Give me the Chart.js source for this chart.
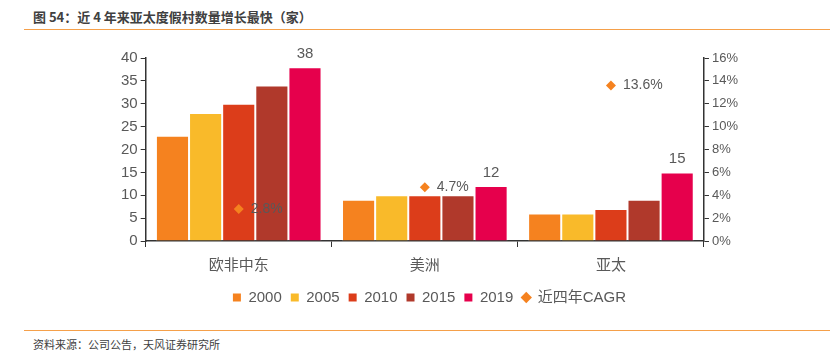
<!DOCTYPE html>
<html>
<head>
<meta charset="utf-8">
<script src="https://cdn.jsdelivr.net/npm/chart.js@4.4.0/dist/chart.umd.min.js"></script>
<style>
    body { margin: 0; background: #fff; width: 838px; height: 353px; position: relative; overflow: hidden; font-family: "Liberation Sans", "Noto Sans CJK SC", sans-serif; }
    .title { position: absolute; left: 33px; top: 7px; font-size: 13px; font-weight: bold; color: #404040; font-family: "Noto Sans CJK SC", sans-serif; }
    .rule { position: absolute; left: 24px; width: 806px; height: 1px; background: #F5A04A; }
    .source { position: absolute; left: 33px; top: 336px; font-size: 11px; color: #404040; font-family: "Noto Sans CJK SC", sans-serif; }
    #wrap { position: absolute; left: 0; top: 35px; width: 838px; height: 280px; }
</style>
</head>
<body>
<div class="title">图 54：近 4 年来亚太度假村数量增长最快（家）</div>
<div class="rule" style="top: 29px;"></div>
<div id="wrap"><canvas id="chart"></canvas></div>
<div class="rule" style="top: 330px;"></div>
<div class="source">资料来源：公司公告，天风证券研究所</div>
<script>
document.addEventListener('DOMContentLoaded', function() {
    const regions = ['欧非中东', '美洲', '亚太'];
    const years = ['2000', '2005', '2010', '2015', '2019'];
    const v2000 = [23, 9, 6];
    const v2005 = [28, 10, 6];
    const v2010 = [30, 10, 7];
    const v2015 = [34, 10, 9];
    const v2019 = [38, 12, 15];
    const cagr = [2.8, 4.7, 13.6];
    const barColors = ['#F5821F', '#F9BA2A', '#DC3D1A', '#B0392B', '#E6004C'];
    const grey = '#595959';

    const barSeries = [v2000, v2005, v2010, v2015, v2019];
    const datasets = barSeries.map((vals, i) => ({
        label: years[i],
        data: vals,
        backgroundColor: barColors[i],
        borderColor: 'rgba(255,255,255,0.6)',
        borderWidth: 1,
        yAxisID: 'y',
        categoryPercentage: 0.89,
        barPercentage: 1,
        order: 2
    }));
    datasets.push({
        type: 'line',
        label: '近四年CAGR',
        data: cagr,
        showLine: false,
        pointStyle: 'rectRot',
        pointRadius: 5,
        pointHoverRadius: 5,
        backgroundColor: '#F5821F',
        borderColor: '#F5821F',
        borderWidth: 0,
        yAxisID: 'y2',
        order: 1
    });

    // 数值标签：2019 柱顶 + CAGR 百分比
    const labelPlugin = {
        id: 'labels',
        afterDatasetsDraw(chart) {
            const ctx = chart.ctx;
            ctx.save();
            ctx.fillStyle = grey;
            ctx.font = '15px "Liberation Sans", sans-serif';
            ctx.textAlign = 'center';
            ctx.textBaseline = 'bottom';
            chart.getDatasetMeta(4).data.forEach((bar, i) => {
                ctx.fillText(String(v2019[i]), bar.x, bar.y - 6);
            });
            ctx.font = '14px "Liberation Sans", sans-serif';
            ctx.textAlign = 'left';
            ctx.textBaseline = 'middle';
            chart.getDatasetMeta(5).data.forEach((pt, i) => {
                ctx.fillText(cagr[i].toFixed(1) + '%', pt.x + 12, pt.y);
            });
            ctx.restore();
        }
    };

    new Chart(document.getElementById('chart').getContext('2d'), {
        type: 'bar',
        data: { labels: regions, datasets: datasets },
        plugins: [labelPlugin],
        options: {
            responsive: true,
            maintainAspectRatio: false,
            animation: false,
            layout: { padding: { top: 23, left: 118, right: 97, bottom: 0 } },
            scales: {
                x: {
                    offset: true,
                    grid: { offset: true, drawOnChartArea: false, tickLength: 6, color: '#333' },
                    border: { color: '#333', width: 1.5 },
                    ticks: { color: grey, font: { size: 15, family: '"Noto Sans CJK SC", sans-serif' }, padding: 8 }
                },
                y: {
                    position: 'left',
                    min: 0, max: 40,
                    ticks: { stepSize: 5, color: grey, font: { size: 15 }, padding: 3 },
                    grid: { drawOnChartArea: false, tickLength: 5, color: '#333' },
                    border: { color: '#333', width: 1.5 }
                },
                y2: {
                    position: 'right',
                    min: 0, max: 16,
                    ticks: { stepSize: 2, color: grey, font: { size: 13 }, padding: 3, callback: v => v + '%' },
                    grid: { drawOnChartArea: false, tickLength: 5, color: '#333' },
                    border: { color: '#333', width: 1.5 }
                }
            },
            plugins: {
                legend: {
                    position: 'bottom',
                    labels: {
                        usePointStyle: true,
                        boxWidth: 8,
                        boxHeight: 8,
                        color: grey,
                        font: { size: 15, family: '"Liberation Sans", "Noto Sans CJK SC", sans-serif' },
                        padding: 9,
                        generateLabels(chart) {
                            return chart.data.datasets.map((ds, i) => ({
                                text: ds.label,
                                fillStyle: ds.backgroundColor,
                                strokeStyle: ds.backgroundColor,
                                lineWidth: 0,
                                pointStyle: ds.type === 'line' ? 'rectRot' : 'rect',
                                datasetIndex: i,
                                fontColor: grey
                            }));
                        }
                    }
                },
                tooltip: { enabled: false }
            }
        }
    });
});
</script>
</body>
</html>
